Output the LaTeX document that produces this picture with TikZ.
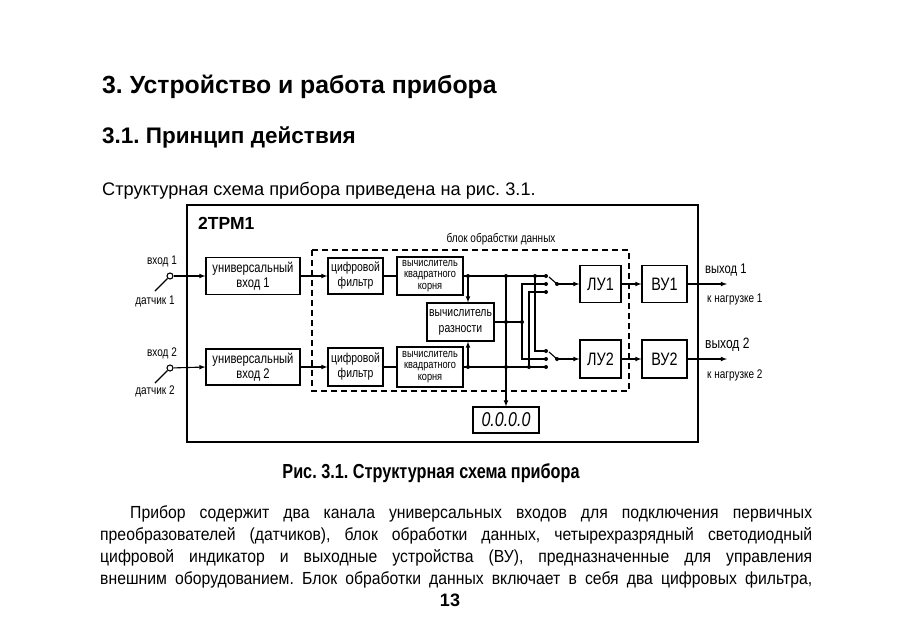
\documentclass[tikz,border=0pt]{standalone}
\usepackage{fontspec}
\setmainfont{Liberation Sans}
\newfontfamily\narrowfont[FakeStretch=0.8]{Liberation Sans}
\newfontfamily\parfont[FakeStretch=0.9]{Liberation Sans}
\frenchspacing

\begin{document}
\begin{tikzpicture}[x=1pt,y=-1pt,>=latex,
    wire/.style={line width=1.1pt},
    blk/.style={draw,line width=1.1pt,align=center,inner sep=1pt},
    bsize/.style 2 args={minimum width=#1pt,minimum height=#2pt},
    lbl/.style={inner sep=0pt,font=\narrowfont\fontsize{12.5}{13}\selectfont},
    txt/.style={anchor=base west,inner sep=0pt,font=\parfont\fontsize{17.5}{18}\selectfont}]
    \useasboundingbox (0,0) rectangle (900,638);
    % headings
    \node[anchor=base west,inner sep=0pt,font=\bfseries\fontsize{24.8}{26}\selectfont] (title) at (102,93) {3. Устройство и работа прибора};
    \node[anchor=base west,inner sep=0pt,font=\bfseries\fontsize{22.5}{23}\selectfont] (sect) at (102,143) {3.1. Принцип действия};
    \node[anchor=base west,inner sep=0pt,font=\fontsize{18.2}{19}\selectfont] (intro) at (102,195) {Структурная схема прибора приведена на рис. 3.1.};
    % device frame
    \draw[line width=1.8pt] (187,205) rectangle (698,442);
    \node[anchor=west,inner sep=0pt,font=\bfseries\fontsize{17.5}{18}\selectfont] (dev) at (198,223) {2ТРМ1};
    \draw[wire,dashed,dash pattern=on 6pt off 4pt] (312,250) rectangle (629,391);
    \node[lbl] (blk) at (501,239) {блок обрабстки данных};
    % blocks
    \node[blk,bsize={94}{37},font=\narrowfont\fontsize{14}{15}\selectfont] (uv1) at (253,276) {универсальный\\вход 1};
    \node[blk,bsize={94}{36},font=\narrowfont\fontsize{14}{15}\selectfont] (uv2) at (253,367) {универсальный\\вход 2};
    \node[blk,bsize={55}{36},font=\narrowfont\fontsize{13}{15}\selectfont] (cf1) at (355.5,276) {цифровой\\фильтр};
    \node[blk,bsize={55}{38},font=\narrowfont\fontsize{13}{15}\selectfont] (cf2) at (355.5,367) {цифровой\\фильтр};
    \node[blk,bsize={66}{38},font=\narrowfont\fontsize{11.5}{11.5}\selectfont] (vk1) at (430,276) {вычислитель\\квадратного\\корня};
    \node[blk,bsize={66}{40},font=\narrowfont\fontsize{11.5}{11.5}\selectfont] (vk2) at (430,367) {вычислитель\\квадратного\\корня};
    \node[blk,bsize={67}{38},font=\narrowfont\fontsize{13}{16}\selectfont] (vr) at (460.5,322) {вычислитель\\разности};
    \node[blk,bsize={66}{26},font=\narrowfont\itshape\fontsize{20}{20}\selectfont] (ind) at (506,420) {0.0.0.0};
    \node[blk,bsize={41}{37},font=\narrowfont\fontsize{18}{18}\selectfont] (lu1) at (600.5,284) {ЛУ1};
    \node[blk,bsize={41}{38},font=\narrowfont\fontsize{18}{18}\selectfont] (lu2) at (600.5,359) {ЛУ2};
    \node[blk,bsize={45}{37},font=\narrowfont\fontsize{18}{18}\selectfont] (vu1) at (664.5,284) {ВУ1};
    \node[blk,bsize={45}{38},font=\narrowfont\fontsize{18}{18}\selectfont] (vu2) at (664.5,359) {ВУ2};
    % inputs
    \node[circle,draw,line width=1.1pt,fill=white,inner sep=0pt,minimum size=6pt] (in1) at (170,276) {};
    \node[circle,draw,line width=1.1pt,fill=white,inner sep=0pt,minimum size=6pt] (in2) at (170,368) {};
    \coordinate (s1) at (155,291);
    \coordinate (s2) at (155,383);
    \node[lbl] (vh1) at (162,261) {вход 1};
    \node[lbl] (dt1) at (155,301) {датчик 1};
    \node[lbl] (vh2) at (162,353) {вход 2};
    \node[lbl] (dt2) at (155,391) {датчик 2};
    \draw[wire,line width=1.4pt] (s1) -- (in1);
    \draw[wire,line width=1.4pt] (s2) -- (in2);
    \draw[wire,->] (in1) -- (uv1.west);
    \draw[wire,->] (in2) -- (uv2.west);
    \draw[wire,->] (uv1) -- (cf1);
    \draw[wire,->] (uv2) -- (cf2);
    \draw[wire] (cf1) -- (vk1);
    \draw[wire] (cf2) -- (vk2);
    % junctions and switch contacts
    \coordinate (j1a) at (468,276);
    \coordinate (j1b) at (506,276);
    \coordinate (j1c) at (535,276);
    \coordinate (j2a) at (468,367);
    \coordinate (j2b) at (506,367);
    \coordinate (j2c) at (529,367);
    \coordinate (jd1) at (506,322);
    \coordinate (jd2) at (522,322);
    \coordinate (k11) at (546,276);
    \coordinate (k12) at (546,284);
    \coordinate (k13) at (546,292);
    \coordinate (k21) at (546,351);
    \coordinate (k22) at (546,359);
    \coordinate (k23) at (546,367);
    \coordinate (l1) at (549,277);
    \coordinate (l2) at (549,352);
    \coordinate (sw1) at (557,284);
    \coordinate (sw2) at (557,359);
    \draw[wire] (vk1.east) -- (k11);
    \draw[wire] (vk2.east) -- (k23);
    \draw[wire,->] (j1a) -- (j1a |- vr.north);
    \draw[wire,->] (j2a) -- (j2a |- vr.south);
    \draw[wire] (vr.east |- jd2) -- (jd2);
    \draw[wire,->] (j1b) -- (ind.north);
    \draw[wire] (k12) -| (jd2) |- (k22);
    \draw[wire] (k13) -| (j2c);
    \draw[wire] (j1c) |- (k21);
    \draw[wire] (l1) -- (sw1);
    \draw[wire] (l2) -- (sw2);
    \draw[wire,->] (sw1) -- (lu1.west);
    \draw[wire,->] (sw2) -- (lu2.west);
    \foreach \p in {j1a,j1b,j1c,j2a,j2b,j2c,jd1,jd2,k11,k12,k13,k21,k22,k23,sw1,sw2}
      \fill (\p) circle (2pt);
    % outputs
    \coordinate (out1) at (727,284);
    \coordinate (out2) at (727,359);
    \draw[wire,->] (lu1) -- (vu1);
    \draw[wire,->] (lu2) -- (vu2);
    \draw[wire,->] (vu1.east) -- (out1);
    \draw[wire,->] (vu2.east) -- (out2);
    \node[lbl,anchor=west,font=\narrowfont\fontsize{14}{15}\selectfont] (vy1) at (705,270) {выход 1};
    \node[lbl,anchor=west] (ng1) at (707,299) {к нагрузке 1};
    \node[lbl,anchor=west,font=\narrowfont\fontsize{15}{16}\selectfont] (vy2) at (705,345) {выход 2};
    \node[lbl,anchor=west] (ng2) at (707,375) {к нагрузке 2};
    % caption and text
    \node[anchor=base,inner sep=0pt,font=\narrowfont\bfseries\fontsize{20.3}{21}\selectfont] (cap) at (431,478) {Рис. 3.1. Структурная схема прибора};
    \node[txt] (par1) at (130,518) {\makebox[682pt][s]{Прибор содержит два канала универсальных входов для подключения первичных}};
    \node[txt] (par2) at (100,540) {\makebox[712pt][s]{преобразователей (датчиков), блок обработки данных, четырехразрядный светодиодный}};
    \node[txt] (par3) at (100,562) {\makebox[712pt][s]{цифровой индикатор и выходные устройства (ВУ), предназначенные для управления}};
    \node[txt] (par4) at (100,584) {\makebox[712pt][s]{внешним оборудованием. Блок обработки данных включает в себя два цифровых фильтра,}};
    \node[anchor=base,inner sep=0pt,font=\bfseries\fontsize{18}{18}\selectfont] (page) at (450,606) {13};
\end{tikzpicture}
\end{document}
